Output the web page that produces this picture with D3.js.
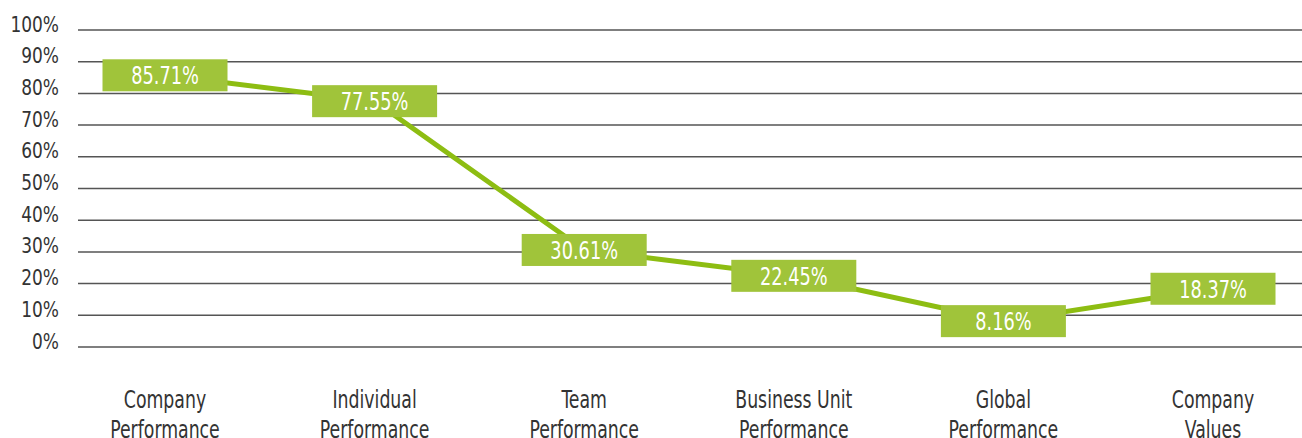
<!DOCTYPE html>
<html>
<head>
<meta charset="utf-8">
<script src="https://cdnjs.cloudflare.com/ajax/libs/d3/7.8.5/d3.min.js"></script>
<style>
  body { margin: 0; background: #fff; }
  text { font-family: "DejaVu Sans Condensed", "Liberation Sans Narrow", sans-serif; }
</style>
</head>
<body>
<div id="chart"></div>
<script>
var categories = [
    ["Company", "Performance"],
    ["Individual", "Performance"],
    ["Team", "Performance"],
    ["Business Unit", "Performance"],
    ["Global", "Performance"],
    ["Company", "Values"]
];
var values = [85.71, 77.55, 30.61, 22.45, 8.16, 18.37];
var yTicks = [0, 10, 20, 30, 40, 50, 60, 70, 80, 90, 100];

var width = 1302,
    height = 438;

var svg = d3.select('#chart').append('svg')
    .attr('width', width)
    .attr('height', height);

var x = d3.scalePoint()
    .domain(d3.range(categories.length))
    .range([165, 1213]);

var y = d3.scaleLinear()
    .domain([0, 100])
    .range([347, 30]);

// gridlines
svg.append('g')
    .selectAll('line')
    .data(yTicks)
    .enter()
    .append('line')
    .attr('x1', 78)
    .attr('x2', width)
    .attr('y1', function(d) { return y(d); })
    .attr('y2', function(d) { return y(d); })
    .style('stroke', '#555')
    .style('stroke-width', 1.5);

// y tick labels (narrowed to mimic a condensed face)
svg.append('g')
    .selectAll('text')
    .data(yTicks)
    .enter()
    .append('text')
    .attr('transform', function(d) { return 'translate(59,' + (y(d) + 1.5) + ') scale(0.9,1)'; })
    .attr('text-anchor', 'end')
    .style('font-size', '21px')
    .style('fill', '#333')
    .text(function(d) { return d + '%'; });

// category labels
var cat = svg.append('g')
    .selectAll('text')
    .data(categories)
    .enter()
    .append('text')
    .attr('transform', function(d, i) { return 'translate(' + x(i) + ',0) scale(0.77,1)'; })
    .attr('text-anchor', 'middle')
    .style('font-size', '25px')
    .style('fill', '#333');

cat.selectAll('tspan')
    .data(function(d) { return d; })
    .enter()
    .append('tspan')
    .attr('x', 0)
    .attr('y', function(d, j) { return 408 + j * 30; })
    .text(function(d) { return d; });

// line
var line = d3.line()
    .x(function(d, i) { return x(i); })
    .y(function(d) { return y(d); });

svg.append('path')
    .datum(values)
    .attr('d', line)
    .style('fill', 'none')
    .style('stroke', '#8dbd12')
    .style('stroke-width', 5);

// value boxes
var boxW = 125, boxH = 32;
var boxes = svg.append('g')
    .selectAll('g')
    .data(values)
    .enter()
    .append('g')
    .attr('transform', function(d, i) { return 'translate(' + x(i) + ',' + y(d) + ')'; });

boxes.append('rect')
    .attr('x', -boxW / 2)
    .attr('y', -boxH / 2)
    .attr('width', boxW)
    .attr('height', boxH)
    .style('fill', '#a0c43a');

boxes.append('text')
    .attr('transform', 'scale(0.79,1)')
    .attr('text-anchor', 'middle')
    .attr('dy', '0.36em')
    .style('font-size', '25px')
    .style('fill', '#fff')
    .text(function(d) { return d.toFixed(2) + '%'; });
</script>
</body>
</html>
